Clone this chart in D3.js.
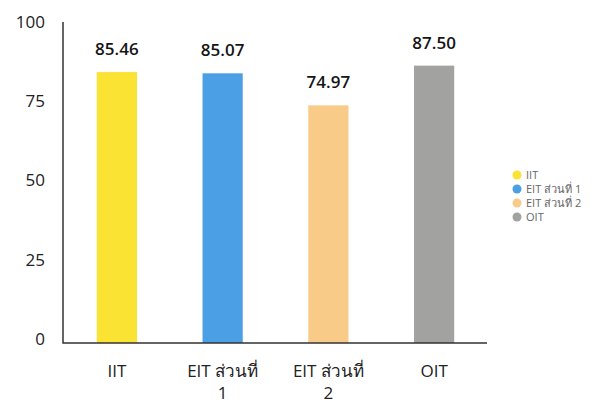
<!DOCTYPE html>
<html>
<head>
<meta charset="utf-8">
<script src="https://cdn.jsdelivr.net/npm/d3@7"></script>
<style>
  body { margin: 0; background: #fff; }
  svg { font-family: "Open Sans", "Noto Sans", sans-serif; }
</style>
</head>
<body>
<div id="chart"></div>
<script>
// data
const categories = ["IIT", "EIT ส่วนที่ 1", "EIT ส่วนที่ 2", "OIT"]
const xLabels = [["IIT"], ["EIT ส่วนที่", "1"], ["EIT ส่วนที่", "2"], ["OIT"]]
const values = [85.46, 85.07, 74.97, 87.50]
const valueLabels = ["85.46", "85.07", "74.97", "87.50"]
const yTicks = [0, 25, 50, 75, 100]
const colors = ["#fae332", "#4b9fe4", "#f8cc88", "#a2a2a0"]

const W = 601, H = 408
const svg = d3.select("#chart").append("svg")
  .attr("width", W)
  .attr("height", H)

const x = d3.scaleBand()
  .domain(categories)
  .range([64, 487])
  .paddingInner(0.62)
  .paddingOuter(0.31)

const y = d3.scaleLinear()
  .domain([0, 100])
  .range([343, 26])

// bars
svg.selectAll("rect.bar")
  .data(values)
  .enter().append("rect")
  .attr("class", "bar")
  .attr("x", (d, i) => x(categories[i]))
  .attr("y", d => y(d))
  .attr("width", x.bandwidth())
  .attr("height", d => y(0) - y(d))
  .attr("fill", (d, i) => colors[i])

// value labels
svg.selectAll("text.val")
  .data(values)
  .enter().append("text")
  .attr("class", "val")
  .attr("x", (d, i) => x(categories[i]) + x.bandwidth() / 2)
  .attr("y", d => y(d) - 17)
  .attr("text-anchor", "middle")
  .attr("font-size", 17)
  .attr("font-weight", 600)
  .attr("fill", "#151515")
  .text((d, i) => valueLabels[i])

// axes lines
svg.append("path")
  .attr("d", `M63,22 L63,343 L487,343`)
  .attr("fill", "none")
  .attr("stroke", "#333")
  .attr("stroke-width", 1.5)

// y tick labels
svg.selectAll("text.ytick")
  .data(yTicks)
  .enter().append("text")
  .attr("class", "ytick")
  .attr("x", 45)
  .attr("y", d => y(d) - 4)
  .attr("dy", "0.35em")
  .attr("text-anchor", "end")
  .attr("font-size", 17)
  .attr("font-weight", 500)
  .attr("fill", "#222")
  .text(d => d)

// x labels
const xl = svg.selectAll("text.xlab")
  .data(xLabels)
  .enter().append("text")
  .attr("class", "xlab")
  .attr("x", (d, i) => x(categories[i]) + x.bandwidth() / 2)
  .attr("y", 377)
  .attr("text-anchor", "middle")
  .attr("font-size", 17)
  .attr("font-weight", 500)
  .attr("fill", "#222")
xl.selectAll("tspan")
  .data(d => d)
  .enter().append("tspan")
  .attr("x", function() { return this.parentNode.getAttribute("x") })
  .attr("dy", (d, i) => i === 0 ? 0 : 22)
  .text(d => d)

// legend
const legend = svg.selectAll("g.leg")
  .data(categories)
  .enter().append("g")
  .attr("class", "leg")
  .attr("transform", (d, i) => `translate(517,${175 + i * 14})`)
legend.append("circle")
  .attr("r", 4.5)
  .attr("fill", (d, i) => colors[i])
legend.append("text")
  .attr("x", 9)
  .attr("dy", "0.35em")
  .attr("font-size", 11)
  .attr("fill", "#666")
  .text(d => d)
</script>
</body>
</html>
